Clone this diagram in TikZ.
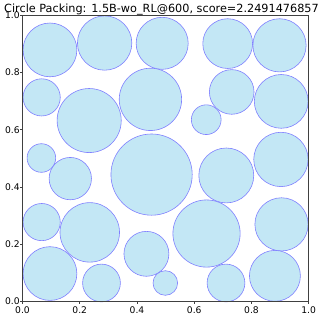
\documentclass[tikz,border=0pt]{standalone}
\usepackage{fontspec}
\setmainfont{DejaVu Sans}
\usepackage{tikz}
\usetikzlibrary{positioning}

\definecolor{discfill}{RGB}{195,231,245}
\definecolor{discedge}{RGB}{128,128,255}
\tikzset{
    disc/.style={fill=discfill, draw=discedge, line width=0.6bp},
    ticklabel/.style={inner sep=0pt, font=\fontsize{9.2}{11}\selectfont},
}

\begin{document}
\begin{tikzpicture}[x=1bp, y=1bp]
    \useasboundingbox (0, 0) rectangle (324, 319);
    % Title
    \node[anchor=base, inner sep=0pt, font=\fontsize{11.3}{13}\selectfont] (title) at (161.5, 306.7)
        {Circle Packing: 1.5B-wo\_RL@600, score=2.2491476857};

    \begin{scope}[shift={(22.5, 17.7)}, x=286.2bp, y=286bp]
        % Packed circles
        \foreach \cx/\cy/\r in {0.096/0.879/0.094, 0.287/0.903/0.095, 0.488/0.902/0.091,
            0.717/0.901/0.087, 0.898/0.895/0.093, 0.067/0.713/0.065, 0.233/0.632/0.112,
            0.447/0.706/0.109, 0.731/0.732/0.078, 0.642/0.635/0.052, 0.904/0.699/0.094,
            0.066/0.501/0.050, 0.167/0.429/0.074, 0.451/0.443/0.142, 0.712/0.440/0.096,
            0.903/0.496/0.095, 0.067/0.277/0.065, 0.235/0.241/0.104, 0.433/0.166/0.0785,
            0.643/0.237/0.1175, 0.905/0.269/0.093, 0.096/0.097/0.094, 0.276/0.064/0.066,
            0.499/0.064/0.043, 0.711/0.064/0.066, 0.882/0.089/0.089}
            \draw[disc] (\cx, \cy) circle[radius=\r];

        % Axes frame
        \draw[line width=0.8bp, black!75] (0, 0) rectangle (1, 1);

        % Ticks and labels
        \foreach \t [count=\i] in {0.0, 0.2, 0.4, 0.6, 0.8, 1.0} {
            \draw[line width=0.8bp, black!75] (\t, 0) -- ++(0, -2.5bp);
            \draw[line width=0.8bp, black!75] (0, \t) -- ++(-2.5bp, 0);
            \node[ticklabel, anchor=base] (xlab\i) at ([yshift=-12.4bp] \t, 0) {\t};
            \node[ticklabel, anchor=east] (ylab\i) at ([xshift=-2.7bp] 0, \t) {\t};
        }
    \end{scope}
\end{tikzpicture}
\end{document}
